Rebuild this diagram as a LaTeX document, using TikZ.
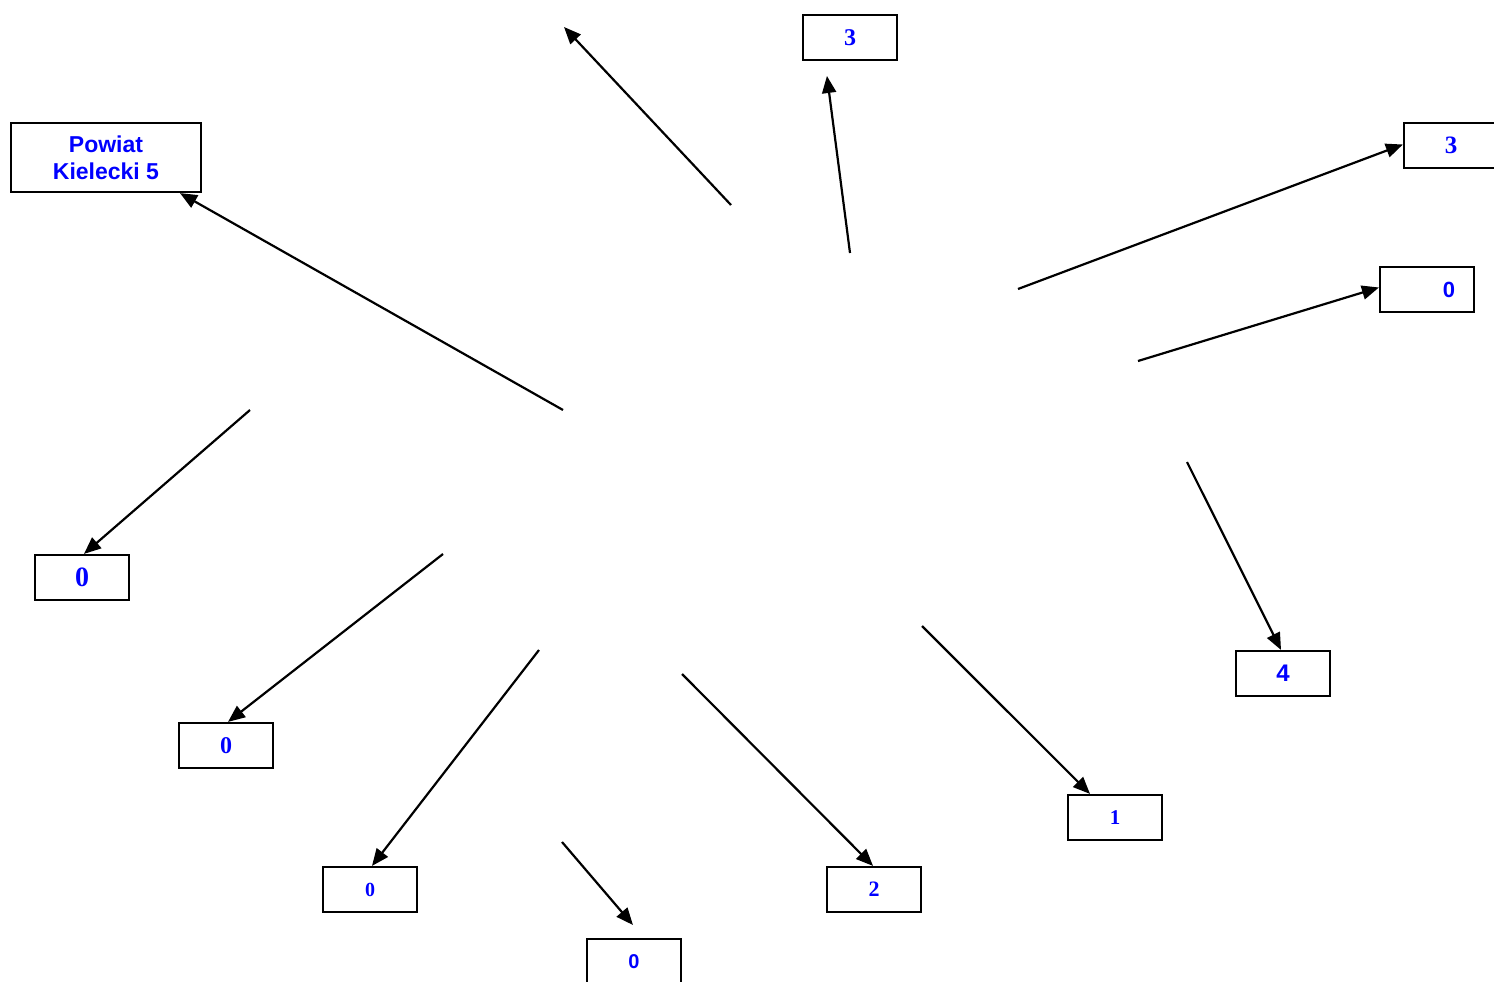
\documentclass[tikz,border=0pt]{standalone}
\usepackage{fontspec}
\setmainfont{Liberation Serif}
\setsansfont{Liberation Sans}
\usetikzlibrary{arrows.meta}
\definecolor{numblue}{RGB}{0,0,255}
\tikzset{
  valbox/.style={draw, line width=2.2pt, minimum width=94pt, minimum height=45pt,
    inner sep=0pt, text=numblue, font=\bfseries},
  link/.style={line width=2.2pt, -{Triangle[length=17pt,width=14pt]}}
}
\newcommand{\fs}[1]{\fontsize{#1}{#1}\selectfont}
\begin{document}
\begin{tikzpicture}[x=1pt,y=-1pt]
    \useasboundingbox (0,0) rectangle (1494,982);
    \node[valbox, minimum width=190pt, minimum height=69pt, align=center,
      font=\sffamily\bfseries\fontsize{23}{27}\selectfont] (powiat) at (106,157.5) {Powiat\\Kielecki 5};
    \node[valbox, font=\bfseries\fs{24}] (top3) at (850,37.5) {3};
    \node[valbox, font=\bfseries\fs{25}] (right3) at (1451,145.5) {3};
    \node[valbox, font=\sffamily\bfseries\fs{22}, text width=56pt, align=right, inner xsep=19pt] (right0) at (1427,289.5) {0};
    \node[valbox, font=\sffamily\bfseries\fs{24}] (val4) at (1283,673.5) {4};
    \node[valbox, font=\bfseries\fs{21}] (val1) at (1115,817.5) {1};
    \node[valbox, font=\bfseries\fs{22}] (val2) at (874,889.5) {2};
    \node[valbox, font=\sffamily\bfseries\fs{20}] (bottom0) at (634,961.5) {0};
    \node[valbox, font=\bfseries\fs{20}] (low0) at (370,889.5) {0};
    \node[valbox, font=\bfseries\fs{24}] (mid0) at (226,745.5) {0};
    \node[valbox, font=\bfseries\fs{28}] (left0) at (82,577.5) {0};

    \coordinate (fpowiat) at (563,410);
    \coordinate (ffree) at (731,205);
    \coordinate (tfree) at (564,27);
    \coordinate (ftop3) at (850,253);
    \coordinate (fright3) at (1018,289);
    \coordinate (fright0) at (1138,361);
    \coordinate (f4) at (1187,462);
    \coordinate (f1) at (922,626);
    \coordinate (f2) at (682,674);
    \coordinate (fbottom0) at (562,842);
    \coordinate (flow0) at (539,650);
    \coordinate (fmid0) at (443,554);
    \coordinate (fleft0) at (250,410);

    \draw[link] (fpowiat) -- ([xshift=74pt]powiat.south);
    \draw[link] (ffree) -- (tfree);
    \draw[link, shorten >=15pt] (ftop3) -- ([xshift=-25pt]top3.south);
    \draw[link] (fright3) -- ([yshift=1pt]right3.west);
    \draw[link] (fright0) -- ([yshift=2pt]right0.west);
    \draw[link] (f4) -- ([xshift=-2pt]val4.north);
    \draw[link] (f1) -- ([xshift=-25pt]val1.north);
    \draw[link] (f2) -- ([xshift=-1pt]val2.north);
    \draw[link, shorten >=17pt] (fbottom0) -- ([xshift=10pt]bottom0.north);
    \draw[link] (flow0) -- ([xshift=2pt]low0.north);
    \draw[link] (fmid0) -- ([xshift=2pt]mid0.north);
    \draw[link] (fleft0) -- ([xshift=2pt]left0.north);
\end{tikzpicture}
\end{document}
